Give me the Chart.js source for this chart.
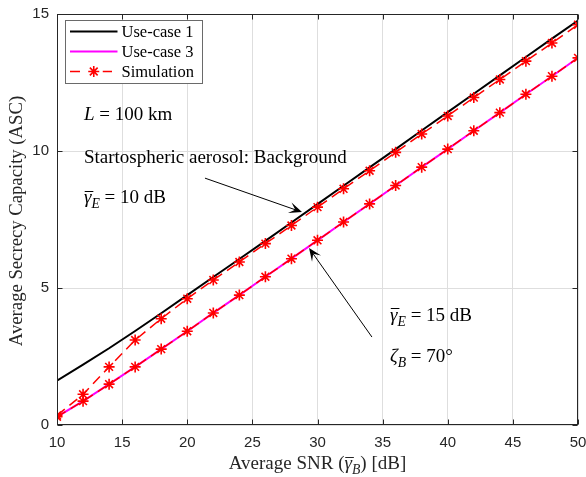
<!DOCTYPE html>
<html><head><meta charset="utf-8">
<script src="https://cdn.jsdelivr.net/npm/chart.js@4.4.1/dist/chart.umd.min.js"></script>
<style>html,body{margin:0;padding:0;background:#fff;}#wrap{width:586px;height:477px;}</style>
</head><body><div id="wrap"><canvas id="c" width="586" height="477"></canvas></div>
<script>
const snr = [10,12,14,16,18,20,22,24,26,28,30,32,34,36,38,40,42,44,46,48,50];
const useCase1 = [1.62,2.2,2.8,3.43,4.08,4.74,5.4,6.06,6.72,7.39,8.06,8.73,9.4,10.07,10.75,11.42,12.09,12.76,13.43,14.1,14.76];
const useCase3 = [0.3,0.87,1.49,2.12,2.77,3.42,4.09,4.74,5.41,6.07,6.74,7.41,8.07,8.74,9.41,10.07,10.74,11.4,12.07,12.73,13.4];
const simUseCase1 = [0.35,1.12,2.12,3.1,3.88,4.61,5.29,5.95,6.62,7.28,7.95,8.62,9.28,9.95,10.62,11.28,11.95,12.61,13.28,13.94,14.61];
const simUseCase3 = [0.3,0.87,1.49,2.12,2.77,3.42,4.09,4.74,5.41,6.07,6.74,7.41,8.07,8.74,9.41,10.07,10.74,11.4,12.07,12.73,13.4];
const xTickValues = [10,15,20,25,30,35,40,45,50];
const yTickValues = [0,5,10,15];
const legendLabels = ['Use-case 1','Use-case 3','Simulation'];

const pts = (xs, ys) => xs.map((v, i) => ({x: v, y: ys[i]}));
const SERIF = '"Liberation Serif", "Times New Roman", serif';
const RED = '#ff0000';

function segFont(s, size){ const sz = s.sub ? size*0.72 : size; return (s.italic?'italic ':'') + sz.toFixed(1) + 'px ' + SERIF; }
function richWidth(ctx, segs, size){ let w=0; for(const s of segs){ ctx.font=segFont(s,size); w+=ctx.measureText(s.t).width; } return w; }
function drawRich(ctx, segs, x, y, size, align){
  const w = richWidth(ctx, segs, size);
  let cx = align === 'center' ? x - w/2 : x;
  ctx.textAlign = 'left'; ctx.textBaseline = 'alphabetic';
  for (const s of segs){
    ctx.font = segFont(s, size);
    const mw = ctx.measureText(s.t).width;
    const yy = s.sub ? y + size*0.27 : y;
    ctx.fillText(s.t, cx, yy);
    if (s.bar){
      const by = Math.round(y - size*0.64) + 0.5;
      ctx.beginPath(); ctx.moveTo(cx + size*0.04, by); ctx.lineTo(cx + mw + size*0.1, by);
      ctx.lineWidth = 1; ctx.stroke();
    }
    cx += mw;
  }
}
function arrow(ctx, x1, y1, x2, y2){
  const a = Math.atan2(y2-y1, x2-x1), c = Math.cos(a), s = Math.sin(a);
  const L = 13, W = 5.5, N = 0.55*L;
  ctx.beginPath(); ctx.moveTo(x1, y1); ctx.lineTo(x2 - N*c, y2 - N*s); ctx.lineWidth = 1; ctx.stroke();
  ctx.beginPath();
  ctx.moveTo(x2, y2);
  ctx.lineTo(x2 - L*c - W*s, y2 - L*s + W*c);
  ctx.lineTo(x2 - N*c, y2 - N*s);
  ctx.lineTo(x2 - L*c + W*s, y2 - L*s - W*c);
  ctx.closePath(); ctx.fill();
}

const textNotes = [
  {x: 12.07, y: 11.13, segs: [{t:'L', italic:true}, {t:' = 100 km'}]},
  {x: 12.07, y: 9.57, segs: [{t:'Startospheric aerosol: Background'}]},
  {x: 12.07, y: 8.09, segs: [{t:'γ', italic:true, bar:true}, {t:'E', italic:true, sub:true}, {t:' = 10 dB'}]},
  {x: 35.57, y: 3.81, segs: [{t:'γ', italic:true, bar:true}, {t:'E', italic:true, sub:true}, {t:' = 15 dB'}]},
  {x: 35.57, y: 2.31, segs: [{t:'ζ', italic:true}, {t:'B', italic:true, sub:true}, {t:' = 70°'}]}
];
const arrowNotes = [
  {x1: 21.36, y1: 9.01, x2: 28.81, y2: 7.77},
  {x1: 34.18, y1: 3.21, x2: 29.35, y2: 6.46}
];

const deco = {
  id: 'deco',
  afterDraw(chart){
    const {ctx, chartArea: a, scales: {x, y}} = chart;
    ctx.save();
    const L = Math.round(a.left)+0.5, R = Math.round(a.right)-0.5, T = Math.round(a.top)+0.5, B = Math.round(a.bottom)-0.5;
    ctx.strokeStyle = '#262626'; ctx.lineWidth = 1;
    ctx.strokeRect(L, T, R-L, B-T);
    ctx.beginPath();
    for (const v of xTickValues){ const px = Math.round(x.getPixelForValue(v))+0.5; ctx.moveTo(px, B); ctx.lineTo(px, B-5); ctx.moveTo(px, T); ctx.lineTo(px, T+5); }
    for (const v of yTickValues){ const py = Math.round(y.getPixelForValue(v))+0.5; ctx.moveTo(L, py); ctx.lineTo(L+5, py); ctx.moveTo(R, py); ctx.lineTo(R-5, py); }
    ctx.stroke();

    // axis titles
    ctx.fillStyle = '#262626'; ctx.strokeStyle = '#262626';
    drawRich(ctx, [{t:'Average SNR ('}, {t:'γ', italic:true, bar:true}, {t:'B', italic:true, sub:true}, {t:') [dB]'}], (a.left+a.right)/2, 469, 19, 'center');
    ctx.save();
    ctx.translate(21.5, (a.top+a.bottom)/2 + 1.5); ctx.rotate(-Math.PI/2);
    ctx.font = '18.7px ' + SERIF; ctx.textAlign = 'center'; ctx.textBaseline = 'alphabetic';
    ctx.fillText('Average Secrecy Capacity (ASC)', 0, 0);
    ctx.restore();

    // annotations
    ctx.fillStyle = '#000'; ctx.strokeStyle = '#000';
    for (const n of textNotes) drawRich(ctx, n.segs, x.getPixelForValue(n.x), y.getPixelForValue(n.y), 19, 'left');
    for (const n of arrowNotes) arrow(ctx, x.getPixelForValue(n.x1), y.getPixelForValue(n.y1), x.getPixelForValue(n.x2), y.getPixelForValue(n.y2));

    // legend
    const lx = a.left + 8.5, ly = a.top + 6.5, lw = 137, lh = 63;
    ctx.fillStyle = '#fff'; ctx.fillRect(lx, ly, lw, lh);
    ctx.strokeStyle = '#6a6a6a'; ctx.lineWidth = 1; ctx.strokeRect(lx, ly, lw, lh);
    const ds = chart.data.datasets;
    const rows = [ds[2], ds[3], ds[0]];
    ctx.font = '16.5px ' + SERIF; ctx.textBaseline = 'middle'; ctx.textAlign = 'left';
    rows.forEach((d, i) => {
      const cy = ly + 11 + i*20;
      const x0 = lx + 4.5, x1 = lx + 52;
      ctx.strokeStyle = d.borderColor; ctx.lineWidth = d.borderWidth;
      ctx.setLineDash(d.borderDash || []);
      ctx.beginPath(); ctx.moveTo(x0, cy); ctx.lineTo(x1, cy); ctx.stroke();
      ctx.setLineDash([]);
      if (d.pointRadius > 0){
        const cx = (x0+x1)/2, r = d.pointRadius;
        ctx.fillStyle = '#fff'; ctx.fillRect(cx-9, cy-2, 18, 4);
        ctx.strokeStyle = d.pointBorderColor; ctx.lineWidth = d.pointBorderWidth;
        ctx.beginPath();
        for (let k = 0; k < 4; k++){ const ang = k*Math.PI/4; ctx.moveTo(cx - r*Math.cos(ang), cy - r*Math.sin(ang)); ctx.lineTo(cx + r*Math.cos(ang), cy + r*Math.sin(ang)); }
        ctx.stroke();
      }
      ctx.fillStyle = '#000';
      ctx.fillText(legendLabels[i], lx + 56, cy + 1);
    });
    ctx.restore();
  }
};

new Chart(document.getElementById('c'), {
  type: 'scatter',
  data: {
    datasets: [
      {label: legendLabels[2], data: pts(snr, simUseCase1), showLine: true, borderColor: RED, borderWidth: 1.5, borderDash: [10,6],
       pointStyle: 'star', pointRadius: 5.5, pointBorderColor: RED, pointBorderWidth: 1.6, pointBackgroundColor: RED, order: 0},
      {label: legendLabels[2] + ' 3', data: pts(snr, simUseCase3), showLine: true, borderColor: RED, borderWidth: 1.5, borderDash: [10,6],
       pointStyle: 'star', pointRadius: 5.5, pointBorderColor: RED, pointBorderWidth: 1.6, pointBackgroundColor: RED, order: 0},
      {label: legendLabels[0], data: pts(snr, useCase1), showLine: true, borderColor: '#000', borderWidth: 2, pointRadius: 0, order: 2},
      {label: legendLabels[1], data: pts(snr, useCase3), showLine: true, borderColor: '#ff00ff', borderWidth: 2, pointRadius: 0, order: 2}
    ]
  },
  options: {
    responsive: false, animation: false, devicePixelRatio: 1,
    layout: {padding: {top: 14, right: 8, left: 0, bottom: 0}},
    plugins: {legend: {display: false}, tooltip: {enabled: false}},
    scales: {
      x: {type: 'linear', min: 10, max: 50,
          afterBuildTicks: s => { s.ticks = xTickValues.map(v => ({value: v})); },
          afterFit: s => { s.height = 52; s.paddingLeft = 0; s.paddingRight = 0; },
          ticks: {font: {family: '"Liberation Sans", Arial, sans-serif', size: 15}, color: '#262626', padding: 9, maxRotation: 0, autoSkip: false},
          grid: {color: '#dedede', drawTicks: false, lineWidth: 1}, border: {display: false}},
      y: {type: 'linear', min: 0, max: 15,
          afterBuildTicks: s => { s.ticks = yTickValues.map(v => ({value: v})); },
          afterFit: s => { s.width = 57; s.paddingTop = 0; s.paddingBottom = 0; },
          ticks: {font: {family: '"Liberation Sans", Arial, sans-serif', size: 15}, color: '#262626', padding: 8, autoSkip: false},
          grid: {color: '#dedede', drawTicks: false, lineWidth: 1}, border: {display: false}}
    }
  },
  plugins: [deco]
});
</script></body></html>
